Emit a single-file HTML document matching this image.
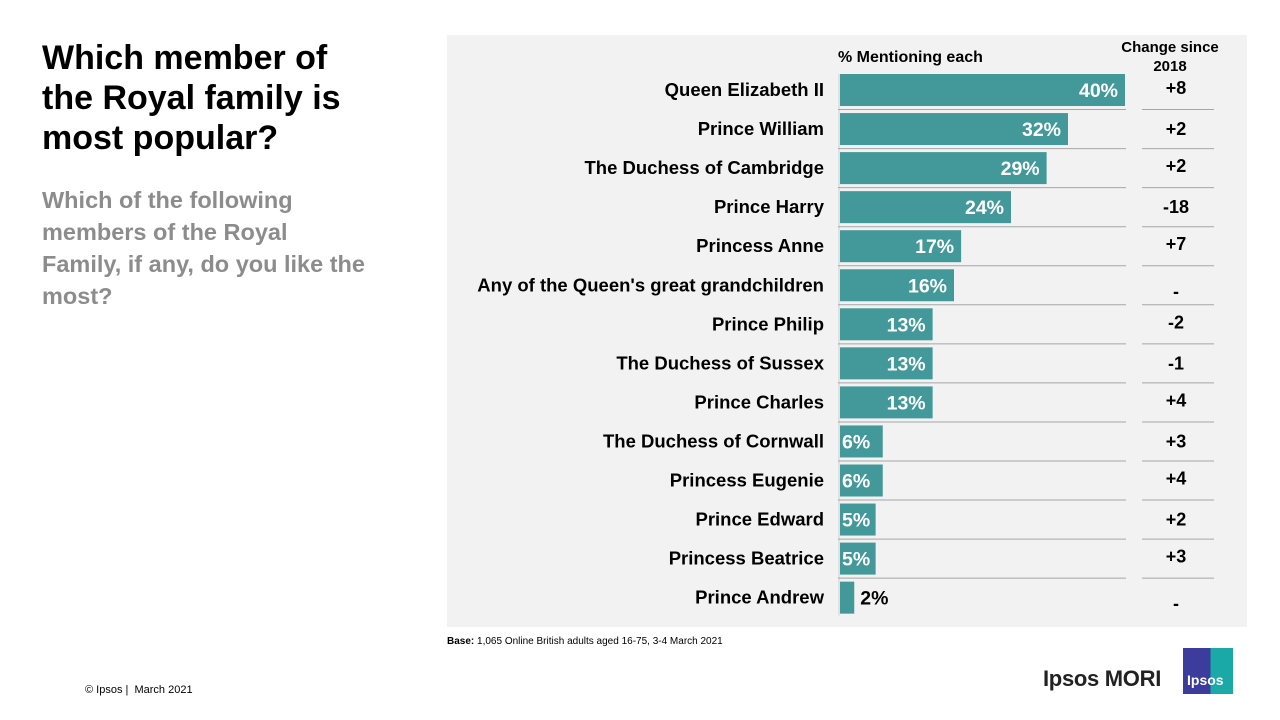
<!DOCTYPE html>
<html><head><meta charset="utf-8"><style>
body{margin:0;width:1280px;height:720px;background:#fff;font-family:"Liberation Sans",Arial,sans-serif;position:relative;overflow:hidden}
.a{position:absolute}
</style></head><body>
<div class="a" style="left:42px;top:38px;font-size:34px;font-weight:bold;line-height:40px;color:#000;width:335px">Which member of the Royal family is most popular?</div>
<div class="a" style="left:42px;top:184px;font-size:23.5px;font-weight:bold;line-height:32px;color:#8c8c8c;width:360px;white-space:nowrap">Which of the following<br>members of the Royal<br>Family, if any, do you like the<br>most?</div>
<div class="a" style="left:447px;top:35px;width:800px;height:592px;background:#f2f2f2"></div>
<svg class="a" style="left:0;top:0" width="1280" height="720" font-family="Liberation Sans, Arial, sans-serif">
<text x="838" y="62" font-size="16" font-weight="bold">% Mentioning each</text>
<text x="1170" y="52" font-size="15" font-weight="bold" text-anchor="middle">Change since</text>
<text x="1170" y="71" font-size="15" font-weight="bold" text-anchor="middle">2018</text>
<g id="g"></g>
</svg>
<div class="a" style="left:447px;top:636px;font-size:10px;color:#000"><b>Base:</b> 1,065 Online British adults aged 16-75, 3-4 March 2021</div>
<div class="a" style="left:85px;top:684px;font-size:11px;color:#000">© Ipsos |&nbsp; March 2021</div>
<div class="a" style="left:1043px;top:666px;font-size:22px;font-weight:bold;color:#222;letter-spacing:-0.3px">Ipsos MORI</div>
<div class="a" style="left:1183px;top:648px;width:50px;height:46px;background:linear-gradient(90deg,#3b3c9c 55%,#1aa9a6 55%)"><span style="position:absolute;left:4px;top:24px;color:#fff;font-size:14px;font-weight:bold">Ipsos</span></div>
<script>
const categories=["Queen Elizabeth II","Prince William","The Duchess of Cambridge","Prince Harry","Princess Anne ","Any of the Queen's great grandchildren","Prince Philip","The Duchess of Sussex","Prince Charles","The Duchess of Cornwall","Princess Eugenie","Prince Edward","Princess Beatrice","Prince Andrew"];
const values=[40,32,29,24,17,16,13,13,13,6,6,5,5,2];
const changes=["+8","+2","+2","-18","+7","-","-2","-1","+4","+3","+4","+2","+3","-"];
const x0=840,pxPer=7.125,y0=90,step=39.05,bh=32;
const xs=v=>x0+v*pxPer, ys=i=>y0+i*step;
const g=document.getElementById('g');const NS='http://www.w3.org/2000/svg';
function mk(t,a){const e=document.createElementNS(NS,t);for(const k in a)e.setAttribute(k,a[k]);g.appendChild(e);return e;}
const ax=mk('line',{x1:839,x2:839,y1:ys(0)-bh/2,y2:ys(categories.length-1)+bh/2+2,stroke:'#d0d0d0'});


categories.forEach((c,i)=>{
  const y=ys(i);
  if(i>0){
    const l=mk('line',{x1:838,x2:1126,y1:y-19.5,y2:y-19.5,stroke:'#a6a6a6'});
    
    
    const l2=mk('line',{x1:1142,x2:1214,y1:y-19.5,y2:y-19.5,stroke:'#a6a6a6'});
    
    
  }
  const lab=mk('text',{x:824,y:y+6,'font-size':18.5,'font-weight':'bold','text-anchor':'end'});lab.textContent=c;
  
  
  const r=mk('rect',{x:x0,y:y-bh/2,width:xs(values[i])-x0,height:bh,fill:'#43999a'});
  
  
  const w=xs(values[i])-x0;const inside=w>30;
  const t=mk('text',{x:inside?(w>60?xs(values[i])-7:x0+2):xs(values[i])+6,y:y+7,'font-size':19.5,'font-weight':'bold','text-anchor':(inside&&w>60)?'end':'start',fill:inside?'#fff':'#000'});
  t.textContent=values[i]+'%';
  
  
  const ch=mk('text',{x:1176,y:y+(changes[i]==='-'?10:4)+(i%2?2:0),'font-size':18,'font-weight':'bold','text-anchor':'middle'});ch.textContent=changes[i];
  
  
});
</script>
</body></html>
